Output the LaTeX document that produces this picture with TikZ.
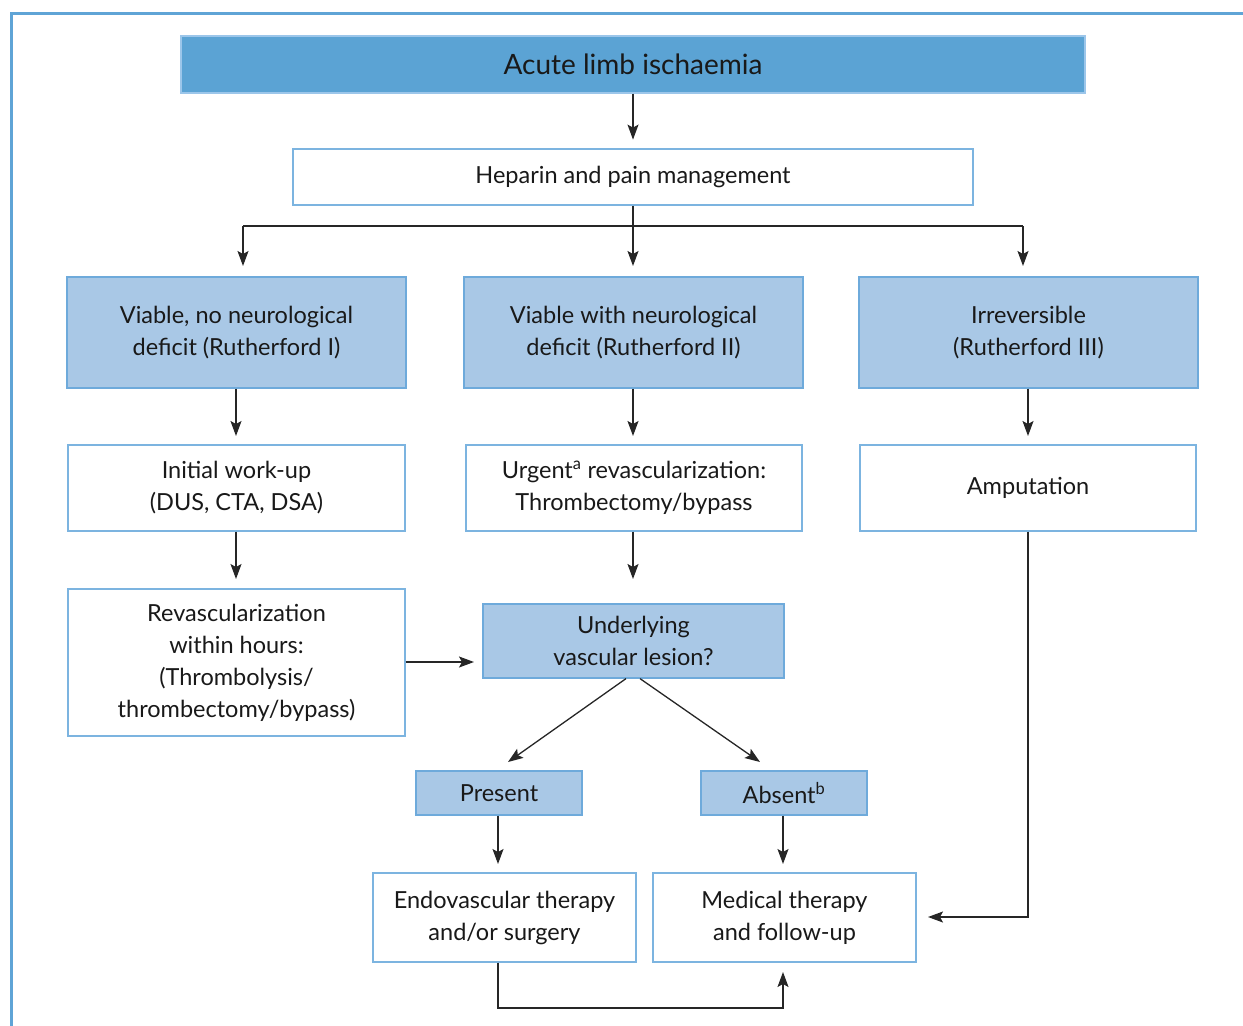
\documentclass[tikz,border=0pt]{standalone}
\usepackage{fontspec}
\setmainfont{Lato}
\usetikzlibrary{arrows.meta}
\definecolor{framec}{HTML}{5FA4D6}
\definecolor{darkfill}{HTML}{5BA3D4}
\definecolor{darkdraw}{HTML}{9CC6EA}
\definecolor{lightfill}{HTML}{A9C8E6}
\definecolor{lightdraw}{HTML}{6EAADB}
\definecolor{wdraw}{HTML}{7CB4E0}
\tikzset{
  base/.style={inner sep=0pt, align=center, line width=1.2pt, font=\fontsize{23.5}{32}\selectfont, text=black!90},
  titlebox/.style={base, fill=darkfill, draw=darkdraw, font=\fontsize{28}{32}\selectfont},
  lbox/.style={base, fill=lightfill, draw=lightdraw},
  wbox/.style={base, fill=white, draw=wdraw},
  arr/.style={line width=1.3pt, draw=black!85, -{Stealth[length=15pt,width=11pt,inset=3pt]}},
  ln/.style={line width=1.3pt, draw=black!85}
}
\begin{document}
\begin{tikzpicture}[x=1pt,y=-1pt]
\useasboundingbox (0,0) rectangle (1243,1026);
\draw[framec, line width=3pt] (11,1026) -- (11,13) -- (1243,13);

\node[titlebox, minimum width=904, minimum height=57] (title) at (633,64.5) {Acute limb ischaemia};
\node[wbox, minimum width=680, minimum height=56] (hep) at (633,177) {Heparin and pain management};

\node[lbox, minimum width=339, minimum height=111] (v1) at (236.5,332.5) {Viable, no neurological\\deficit (Rutherford I)};
\node[lbox, minimum width=339, minimum height=111] (v2) at (633.5,332.5) {Viable with neurological\\deficit (Rutherford II)};
\node[lbox, minimum width=339, minimum height=111] (v3) at (1028.5,332.5) {Irreversible\\(Rutherford III)};

\node[wbox, minimum width=337, minimum height=86] (w1) at (236.5,488) {Initial work-up\\(DUS, CTA, DSA)};
\node[wbox, minimum width=336, minimum height=86] (w2) at (634,488) {Urgent\textsuperscript{a} revascularization:\\Thrombectomy/bypass};
\node[wbox, minimum width=336, minimum height=86] (w3) at (1028,488) {Amputation};

\node[wbox, minimum width=337, minimum height=147] (rv) at (236.5,662.5) {Revascularization\\within hours:\\(Thrombolysis/\\thrombectomy/bypass)};
\node[lbox, minimum width=301, minimum height=74] (ul) at (633.5,641) {Underlying\\vascular lesion?};

\node[lbox, minimum width=166, minimum height=44] (pr) at (499,793) {Present};
\node[lbox, minimum width=166, minimum height=44] (ab) at (784,793) {Absent\textsuperscript{b}};

\node[wbox, minimum width=263, minimum height=89] (ev) at (504.5,917.5) {Endovascular therapy\\and/or surgery};
\node[wbox, minimum width=263, minimum height=89] (mt) at (784.5,917.5) {Medical therapy\\and follow-up};

\coordinate (j) at (633,226);
\draw[arr] (title.south) -- ++(0,46);
\draw[ln] (hep.south) -- (j);
\draw[ln] (243,226) -- (1023,226);
\draw[arr] (243,226) -- (243,266);
\draw[arr] (j) -- (633,266);
\draw[arr] (1023,226) -- (1023,266);

\draw[arr] (v1.south -| 236,0) -- (236,436);
\draw[arr] (v2.south -| 633,0) -- (633,436);
\draw[arr] (v3.south -| 1028,0) -- (1028,436);

\draw[arr] (w1.south -| 236,0) -- (236,579);
\draw[arr] (w2.south -| 633,0) -- (633,579);

\draw[arr] (rv.east |- 0,662) -- (474,662);

\draw[arr] (ul.south -| 626,0) -- (508,762);
\draw[arr] (ul.south -| 640,0) -- (760,762);

\draw[arr] (pr.south -| 498,0) -- (498,864);
\draw[arr] (ab.south -| 783,0) -- (783,864);

\draw[arr] (w3.south -| 1028,0) -- (1028,917) -- (928,917);
\draw[arr] (ev.south -| 498,0) -- (498,1008) -- (783,1008) -- (783,972);
\end{tikzpicture}
\end{document}
